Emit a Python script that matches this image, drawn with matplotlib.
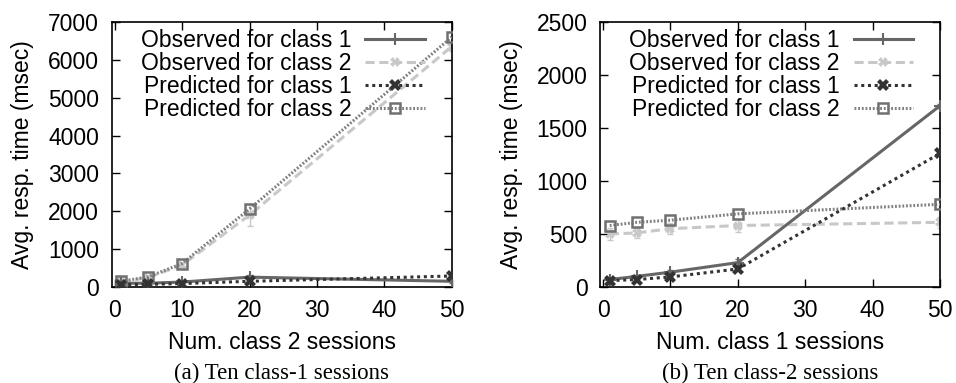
import matplotlib
matplotlib.use("Agg")
import matplotlib.pyplot as plt

plt.rcParams['font.family'] = ['Liberation Sans', 'DejaVu Sans']

x = [1, 5, 10, 20, 50]

# Panel (a): Ten class-1 sessions, x = number of class 2 sessions
a_obs1 = [100, 100, 130, 260, 150]
a_obs1_err = [20, 20, 30, 60, 40]
a_obs2 = [130, 250, 580, 1900, 6350]
a_obs2_err = [30, 40, 60, 300, 120]
a_pred1 = [60, 70, 90, 150, 290]
a_pred2 = [150, 270, 620, 2060, 6600]

# Panel (b): Ten class-2 sessions, x = number of class 1 sessions
b_obs1 = [70, 100, 140, 230, 1710]
b_obs1_err = [10, 15, 20, 30, 20]
b_obs2 = [500, 510, 550, 580, 610]
b_obs2_err = [60, 50, 50, 60, 50]
b_pred1 = [60, 70, 95, 170, 1260]
b_pred2 = [580, 610, 630, 690, 780]

labels = ["Observed for class 1", "Observed for class 2",
          "Predicted for class 1", "Predicted for class 2"]

fig = plt.figure(figsize=(9.56, 3.83), dpi=100)
ax1 = fig.add_axes([0.1168, 0.2507, 0.3557, 0.6919])
ax2 = fig.add_axes([0.6276, 0.2507, 0.3557, 0.6919])

FS = 16.5

def draw(ax, obs1, obs1e, obs2, obs2e, pred1, pred2, ymax, yticks, xlabel, caption):
    ax.errorbar(x, obs1, yerr=obs1e, fmt='none', ecolor='#666666', capsize=2,
                elinewidth=1, zorder=3)
    ax.errorbar(x, obs2, yerr=obs2e, fmt='none', ecolor='#c8c8c8', capsize=2,
                elinewidth=1, zorder=2)
    h1, = ax.plot(x, obs1, color='#666666', lw=2.2, marker='+', ms=9, mew=1.5,
                  label=labels[0], zorder=3)
    h2, = ax.plot(x, obs2, color='#c8c8c8', lw=2.2, ls=(0, (3, 1.5)), marker='X', ms=7,
                  mew=0, label=labels[1], zorder=2)
    h3, = ax.plot(x, pred1, color='#333333', lw=2.2, ls=(0, (1, 1.2)), marker='X', ms=8,
                  mew=0, label=labels[2], zorder=4)
    h4, = ax.plot(x, pred2, color='#808080', lw=2.2, ls=(0, (0.6, 0.6)), marker='s', ms=7,
                  mfc='none', mec='#707070', mew=1.8, label=labels[3], zorder=3)
    ax.set_xlim(-0.45, 50)
    ax.set_ylim(0, ymax)
    ax.set_xticks([0, 10, 20, 30, 40, 50])
    ax.set_yticks(yticks)
    ax.tick_params(direction='in', length=6, width=1, top=True, right=True,
                   labelsize=FS, pad=9)
    for s in ax.spines.values():
        s.set_linewidth(1.2)
    ax.set_xlabel(xlabel, fontsize=FS, labelpad=6)
    ax.set_ylabel("Avg. resp. time (msec)", fontsize=FS, labelpad=10)
    ax.legend([h1, h2, h3, h4], labels, loc='upper right', bbox_to_anchor=(0.921, 0.975),
              frameon=False, markerfirst=False, fontsize=FS, labelspacing=0.0,
              handlelength=2.6, handletextpad=0.6, borderaxespad=0, borderpad=0)
    ax.text(0.5, -0.325, caption, transform=ax.transAxes, ha='center', va='center',
            fontsize=FS, family=['Liberation Serif', 'DejaVu Serif'])

draw(ax1, a_obs1, a_obs1_err, a_obs2, a_obs2_err, a_pred1, a_pred2, 7000,
     [0, 1000, 2000, 3000, 4000, 5000, 6000, 7000], "Num. class 2 sessions",
     "(a) Ten class-1 sessions")
draw(ax2, b_obs1, b_obs1_err, b_obs2, b_obs2_err, b_pred1, b_pred2, 2500,
     [0, 500, 1000, 1500, 2000, 2500], "Num. class 1 sessions",
     "(b) Ten class-2 sessions")

fig.savefig("out.png", dpi=100)
